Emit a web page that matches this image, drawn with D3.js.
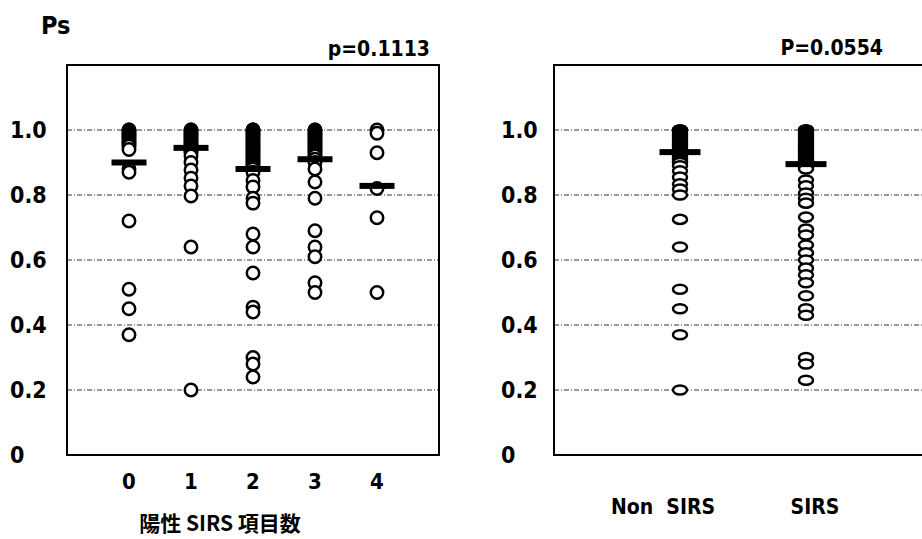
<!DOCTYPE html>
<html>
<head>
<meta charset="utf-8">
<script src="https://cdn.jsdelivr.net/npm/d3@7"></script>
<style>
  body{margin:0;background:#fff;}
  text{font-family:"DejaVu Sans Condensed","Liberation Sans Narrow","Liberation Sans",sans-serif;font-weight:bold;fill:#000;}
  .jp{font-family:"Noto Sans CJK JP",sans-serif;}
</style>
</head>
<body>
<svg id="chart"></svg>
<script>
// values (tight runs near 1.0 make the solid black stacks)
var leftCats=[0,1,2,3,4]
var leftPs=[
  [1.0,1.0,0.995,0.99,0.985,0.98,0.975,0.97,0.965,0.96,0.955,0.95,0.94,0.88,0.87,0.72,0.51,0.45,0.37],
  [1.0,1.0,0.995,0.99,0.985,0.98,0.975,0.97,0.965,0.96,0.955,0.95,0.945,0.94,0.935,0.93,0.92,0.90,0.877,0.852,0.828,0.797,0.64,0.20],
  [1.0,1.0,1.0,0.995,0.99,0.985,0.98,0.975,0.97,0.965,0.96,0.955,0.95,0.945,0.94,0.935,0.93,0.925,0.92,0.915,0.91,0.905,0.90,0.895,0.89,0.885,0.88,0.87,0.845,0.825,0.79,0.775,0.68,0.64,0.56,0.455,0.44,0.30,0.28,0.24],
  [1.0,1.0,0.995,0.99,0.985,0.98,0.975,0.97,0.965,0.96,0.955,0.95,0.945,0.94,0.935,0.93,0.925,0.92,0.91,0.90,0.88,0.84,0.79,0.69,0.64,0.61,0.53,0.50],
  [1.0,0.99,0.93,0.82,0.73,0.50]
]
var leftMeans=[0.90,0.945,0.88,0.91,0.828]

var rightCats=["Non  SIRS","SIRS"]
var rightPs=[
  [1.0,1.0,1.0,0.995,0.99,0.985,0.98,0.975,0.97,0.965,0.96,0.955,0.95,0.945,0.94,0.935,0.93,0.925,0.92,0.915,0.91,0.905,0.90,0.89,0.874,0.855,0.834,0.818,0.80,0.725,0.64,0.51,0.45,0.37,0.20],
  [1.0,1.0,1.0,0.995,0.99,0.985,0.98,0.975,0.97,0.965,0.96,0.955,0.95,0.945,0.94,0.935,0.93,0.925,0.92,0.915,0.91,0.905,0.90,0.895,0.89,0.885,0.88,0.846,0.828,0.806,0.79,0.775,0.732,0.695,0.677,0.646,0.622,0.60,0.575,0.554,0.53,0.49,0.45,0.43,0.30,0.28,0.23]
]
var rightMeans=[0.932,0.895]

var yTicks=[0,0.2,0.4,0.6,0.8,1.0]
var yTickLabels=["0","0.2","0.4","0.6","0.8","1.0"]
var gridTicks=[0.2,0.4,0.6,0.8,1.0]

var screen={width:922,height:539}
var svg=d3.select("#chart").attr("width",screen.width).attr("height",screen.height)

var yScale=d3.scaleLinear().domain([0,1.2]).range([455,65])

//one panel: frame, grid, labels, dots, mean bars
var drawPanel=function(opt){
  var g=svg.append("g")
  var x=opt.xScale
  var left=opt.x0,right=opt.x1

  g.selectAll(".grid").data(gridTicks).enter().append("line")
    .attr("x1",left).attr("x2",right)
    .attr("y1",function(d){return yScale(d)}).attr("y2",function(d){return yScale(d)})
    .attr("stroke","#333").attr("stroke-width",1).attr("stroke-dasharray","5,2,1,2")

  g.selectAll(".ylab").data(yTicks).enter().append("text")
    .attr("x",opt.labelX).attr("y",function(d){return yScale(d)})
    .attr("dy","0.36em").style("font-size","23px")
    .text(function(d,i){return yTickLabels[i]})

  var frame=g.append("path")
    .attr("fill","none").attr("stroke","#000").attr("stroke-width",2)
  if(opt.closed){
    frame.attr("d","M"+left+","+yScale(1.2)+"H"+right+"V"+yScale(0)+"H"+left+"Z")
  }else{
    frame.attr("d","M"+right+","+yScale(1.2)+"H"+left+"V"+yScale(0)+"H"+right)
  }

  opt.cats.forEach(function(c,i){
    g.append("g").selectAll("ellipse").data(opt.values[i]).enter().append("ellipse")
      .attr("cx",x(c)).attr("cy",function(d){return yScale(d)})
      .attr("rx",opt.rx).attr("ry",opt.ry)
      .attr("fill","#fff").attr("stroke","#000").attr("stroke-width",2.5)
    g.append("rect")
      .attr("x",x(c)-opt.barW/2).attr("y",yScale(opt.means[i])-3)
      .attr("width",opt.barW).attr("height",6).attr("fill","#000")
  })
}

var xLeft=d3.scaleLinear().domain([-1,5]).range([67,439])
drawPanel({xScale:xLeft,x0:67,x1:439,closed:true,labelX:10,cats:leftCats,values:leftPs,means:leftMeans,rx:6.2,ry:6.2,barW:35})

var xRight=d3.scalePoint().domain(rightCats).range([554,932]).padding(1)
drawPanel({xScale:xRight,x0:554,x1:922,closed:false,labelX:501,cats:rightCats,values:rightPs,means:rightMeans,rx:7,ry:4.6,barW:41})

// category labels
svg.selectAll(".xl").data(leftCats).enter().append("text")
  .attr("x",function(d){return xLeft(d)}).attr("y",481).attr("dy","0.36em")
  .attr("text-anchor","middle").style("font-size","22px").text(function(d){return d})

var rightLabelX=[663,815]
svg.selectAll(".xr").data(rightCats).enter().append("text")
  .attr("x",function(d,i){return rightLabelX[i]}).attr("y",506).attr("dy","0.36em")
  .attr("text-anchor","middle").style("font-size","21px").style("white-space","pre")
  .attr("xml:space","preserve").text(function(d){return d})

svg.append("text").attr("class","jp").attr("x",220).attr("y",523).attr("dy","0.36em")
  .attr("text-anchor","middle").style("font-size","21px").text("陽性 SIRS 項目数")

svg.append("text").attr("x",41).attr("y",34).style("font-size","25px").text("Ps")
svg.append("text").attr("x",430).attr("y",56).attr("text-anchor","end").style("font-size","21px").text("p=0.1113")
svg.append("text").attr("x",883).attr("y",55).attr("text-anchor","end").style("font-size","21px").text("P=0.0554")
</script>
</body>
</html>
